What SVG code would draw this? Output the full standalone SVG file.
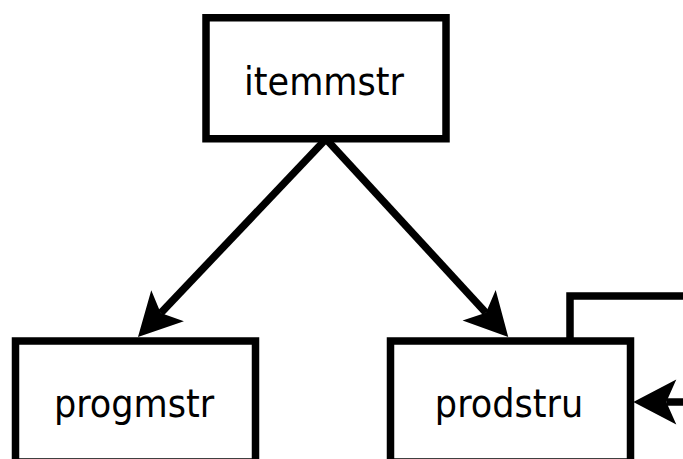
<svg xmlns="http://www.w3.org/2000/svg" width="683" height="459" viewBox="0 0 683 459">
  <style>
    .box { fill: #ffffff; stroke: #000000; stroke-width: 7.5; }
    .label { font-family: "DejaVu Sans Condensed", "DejaVu Sans", "Liberation Sans", sans-serif; font-stretch: condensed; font-size: 39px; fill: #000000; text-anchor: middle; }
    .edge { fill: none; stroke: #000000; stroke-width: 7.5; stroke-linejoin: miter; }
  </style>
  <defs>
    <!-- notched arrowhead; the line ends at the notch, the tip sits 33px beyond -->
    <marker id="arrow" markerUnits="userSpaceOnUse" markerWidth="60" markerHeight="60" viewBox="-15 -30 60 60" refX="0" refY="0" orient="auto" overflow="visible">
      <path d="M33,0 L-10,-22.5 L0,0 L-10,22.5 Z" fill="#000000"/>
    </marker>
  </defs>

  <g id="connectors">
    <path class="edge" d="M326,139 L160.7,313.1" marker-end="url(#arrow)"/>
    <path class="edge" d="M326,139 L485.9,312.7" marker-end="url(#arrow)"/>
    <path class="edge" d="M570,341 V296 H690"/>
    <path class="edge" d="M690,402 H666.3" marker-end="url(#arrow)"/>
  </g>

  <g id="itemmstr">
    <rect class="box" x="206" y="17.75" width="240" height="121"/>
    <text class="label" x="324" y="95">itemmstr</text>
  </g>

  <g id="progmstr">
    <rect class="box" x="15.5" y="341" width="240" height="121"/>
    <text class="label" x="134" y="417">progmstr</text>
  </g>

  <g id="prodstru">
    <rect class="box" x="390.5" y="341" width="240" height="121"/>
    <text class="label" x="509" y="417">prodstru</text>
  </g>
</svg>
